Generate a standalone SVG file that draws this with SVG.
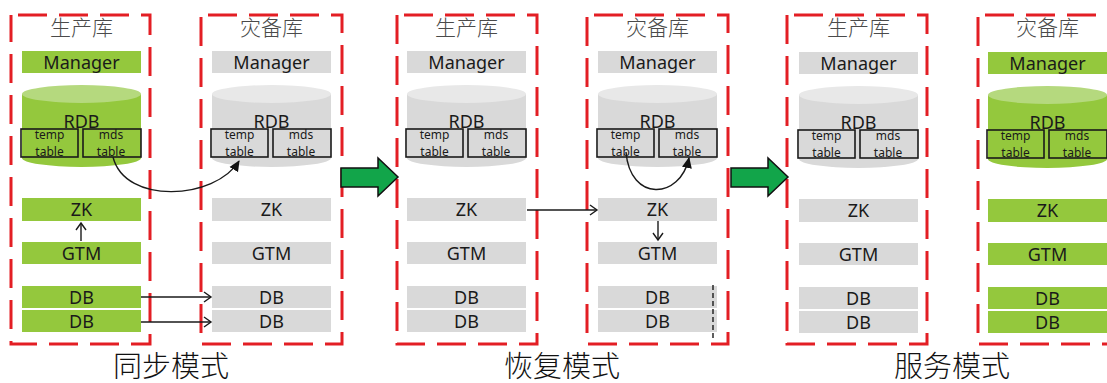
<svg xmlns="http://www.w3.org/2000/svg" width="1107" height="383" viewBox="0 0 1107 383">
<style>
.frame{fill:none;stroke:#E31E24;stroke-width:3;stroke-dasharray:29 12;stroke-dashoffset:-7}
.g{fill:#94C83D}
.y{fill:#D9D9D9}
.gt{fill:#B5D97E}
.yt{fill:#E8E8E8}
.lbl{font-family:"Noto Sans","Open Sans",sans-serif;font-size:18px;fill:#1a1a1a;text-anchor:middle}
.sm{font-family:"Noto Sans","Open Sans",sans-serif;font-size:12px;fill:#1a1a1a;text-anchor:middle}
.tbl{fill:none;stroke:#1a1a1a;stroke-width:1.6}
.title{font-family:"Noto Sans CJK SC","Noto Sans CJK JP",sans-serif;font-size:21px;font-weight:300;fill:#4a4a4a;text-anchor:middle}
.mode{font-family:"Noto Sans CJK SC","Noto Sans CJK JP",sans-serif;font-size:29px;font-weight:300;fill:#111;text-anchor:middle}
.ln{fill:none;stroke:#1a1a1a;stroke-width:1.4}
.big{fill:#12A54A;stroke:#111;stroke-width:1.5}
</style>
<defs>
<marker id="open" markerWidth="10" markerHeight="12" refX="8" refY="6" orient="auto" markerUnits="userSpaceOnUse">
<path d="M1,1 L8,6 L1,11" fill="none" stroke="#1a1a1a" stroke-width="1.4"/>
</marker>
<marker id="solid" markerWidth="12" markerHeight="12" refX="10" refY="6" orient="auto" markerUnits="userSpaceOnUse">
<path d="M0,1 L11,6 L0,11 Z" fill="#111"/>
</marker>
</defs>

<!-- Frames -->
<g id="frames">
<rect class="frame" x="11" y="15" width="139" height="329"/>
<rect class="frame" x="201" y="15" width="141" height="329"/>
<rect class="frame" x="397" y="15" width="140" height="329"/>
<rect class="frame" x="587" y="15" width="141" height="329"/>
<rect class="frame" x="787" y="15" width="140" height="329"/>
<rect class="frame" x="978" y="15" width="141" height="329"/>
</g>

<!-- Panel 1: 生产库 (sync) green -->
<g id="p1">
<text class="title" x="81.5" y="35">生产库</text>
<g id="p1-manager"><rect class="g" x="22" y="51" width="119" height="22"/><text class="lbl" x="81.5" y="68.5">Manager</text></g>
<g id="p1-rdb">
<path class="g" d="M22,94 L22,158 A59.5,9 0 0 0 141,158 L141,94 Z"/>
<ellipse class="gt" cx="81.5" cy="94" rx="59.5" ry="9"/>
<text class="lbl" x="81.5" y="128">RDB</text>
<rect class="tbl" x="21" y="129" width="57" height="28"/>
<text class="sm" x="49.5" y="139">temp</text><text class="sm" x="49.5" y="156">table</text>
<rect class="tbl" x="83" y="129" width="58" height="28"/>
<text class="sm" x="111" y="139">mds</text><text class="sm" x="111" y="156">table</text>
</g>
<g id="p1-zk"><rect class="g" x="22" y="198" width="119" height="23"/><text class="lbl" x="81.5" y="216">ZK</text></g>
<g id="p1-gtm"><rect class="g" x="22" y="242" width="119" height="22"/><text class="lbl" x="81.5" y="259.5">GTM</text></g>
<g id="p1-db1"><rect class="g" x="22" y="286" width="119" height="22"/><text class="lbl" x="81.5" y="303.5">DB</text></g>
<g id="p1-db2"><rect class="g" x="22" y="310" width="119" height="22"/><text class="lbl" x="81.5" y="327.5">DB</text></g>
</g>

<!-- Panel 2: 灾备库 (sync) gray -->
<g id="p2">
<text class="title" x="271.5" y="35">灾备库</text>
<g id="p2-manager"><rect class="y" x="212" y="51" width="119" height="22"/><text class="lbl" x="271.5" y="68.5">Manager</text></g>
<g id="p2-rdb">
<path class="y" d="M212,94 L212,158 A59.5,9 0 0 0 331,158 L331,94 Z"/>
<ellipse class="yt" cx="271.5" cy="94" rx="59.5" ry="9"/>
<text class="lbl" x="271.5" y="128">RDB</text>
<rect class="tbl" x="211" y="129" width="57" height="28"/>
<text class="sm" x="239.5" y="139">temp</text><text class="sm" x="239.5" y="156">table</text>
<rect class="tbl" x="273" y="129" width="58" height="28"/>
<text class="sm" x="301" y="139">mds</text><text class="sm" x="301" y="156">table</text>
</g>
<g id="p2-zk"><rect class="y" x="212" y="198" width="119" height="23"/><text class="lbl" x="271.5" y="216">ZK</text></g>
<g id="p2-gtm"><rect class="y" x="212" y="242" width="119" height="22"/><text class="lbl" x="271.5" y="259.5">GTM</text></g>
<g id="p2-db1"><rect class="y" x="212" y="286" width="119" height="22"/><text class="lbl" x="271.5" y="303.5">DB</text></g>
<g id="p2-db2"><rect class="y" x="212" y="310" width="119" height="22"/><text class="lbl" x="271.5" y="327.5">DB</text></g>
</g>

<!-- Panel 3: 生产库 (recovery) gray -->
<g id="p3">
<text class="title" x="466.5" y="35">生产库</text>
<g id="p3-manager"><rect class="y" x="407" y="51" width="119" height="22"/><text class="lbl" x="466.5" y="68.5">Manager</text></g>
<g id="p3-rdb">
<path class="y" d="M407,94 L407,158 A59.5,9 0 0 0 526,158 L526,94 Z"/>
<ellipse class="yt" cx="466.5" cy="94" rx="59.5" ry="9"/>
<text class="lbl" x="466.5" y="128">RDB</text>
<rect class="tbl" x="406" y="129" width="57" height="28"/>
<text class="sm" x="434.5" y="139">temp</text><text class="sm" x="434.5" y="156">table</text>
<rect class="tbl" x="468" y="129" width="58" height="28"/>
<text class="sm" x="496" y="139">mds</text><text class="sm" x="496" y="156">table</text>
</g>
<g id="p3-zk"><rect class="y" x="407" y="198" width="119" height="23"/><text class="lbl" x="466.5" y="216">ZK</text></g>
<g id="p3-gtm"><rect class="y" x="407" y="242" width="119" height="22"/><text class="lbl" x="466.5" y="259.5">GTM</text></g>
<g id="p3-db1"><rect class="y" x="407" y="286" width="119" height="22"/><text class="lbl" x="466.5" y="303.5">DB</text></g>
<g id="p3-db2"><rect class="y" x="407" y="310" width="119" height="22"/><text class="lbl" x="466.5" y="327.5">DB</text></g>
</g>

<!-- Panel 4: 灾备库 (recovery) gray -->
<g id="p4">
<text class="title" x="657.5" y="35">灾备库</text>
<g id="p4-manager"><rect class="y" x="598" y="51" width="119" height="22"/><text class="lbl" x="657.5" y="68.5">Manager</text></g>
<g id="p4-rdb">
<path class="y" d="M598,94 L598,158 A59.5,9 0 0 0 717,158 L717,94 Z"/>
<ellipse class="yt" cx="657.5" cy="94" rx="59.5" ry="9"/>
<text class="lbl" x="657.5" y="128">RDB</text>
<rect class="tbl" x="597" y="129" width="57" height="28"/>
<text class="sm" x="625.5" y="139">temp</text><text class="sm" x="625.5" y="156">table</text>
<rect class="tbl" x="659" y="129" width="58" height="28"/>
<text class="sm" x="687" y="139">mds</text><text class="sm" x="687" y="156">table</text>
</g>
<g id="p4-zk"><rect class="y" x="598" y="198" width="119" height="23"/><text class="lbl" x="657.5" y="216">ZK</text></g>
<g id="p4-gtm"><rect class="y" x="598" y="242" width="119" height="22"/><text class="lbl" x="657.5" y="259.5">GTM</text></g>
<g id="p4-db1"><rect class="y" x="598" y="286" width="119" height="22"/><text class="lbl" x="657.5" y="303.5">DB</text></g>
<g id="p4-db2"><rect class="y" x="598" y="310" width="119" height="22"/><text class="lbl" x="657.5" y="327.5">DB</text></g>
</g>

<!-- Panel 5: 生产库 (service) gray -->
<g id="p5">
<text class="title" x="858.5" y="35">生产库</text>
<g id="p5-manager"><rect class="y" x="799" y="52" width="119" height="22"/><text class="lbl" x="858.5" y="69.5">Manager</text></g>
<g id="p5-rdb">
<path class="y" d="M799,95 L799,159 A59.5,9 0 0 0 918,159 L918,95 Z"/>
<ellipse class="yt" cx="858.5" cy="95" rx="59.5" ry="9"/>
<text class="lbl" x="858.5" y="129">RDB</text>
<rect class="tbl" x="798" y="130" width="57" height="28"/>
<text class="sm" x="826.5" y="140">temp</text><text class="sm" x="826.5" y="157">table</text>
<rect class="tbl" x="860" y="130" width="58" height="28"/>
<text class="sm" x="888" y="140">mds</text><text class="sm" x="888" y="157">table</text>
</g>
<g id="p5-zk"><rect class="y" x="799" y="199" width="119" height="23"/><text class="lbl" x="858.5" y="217">ZK</text></g>
<g id="p5-gtm"><rect class="y" x="799" y="243" width="119" height="22"/><text class="lbl" x="858.5" y="260.5">GTM</text></g>
<g id="p5-db1"><rect class="y" x="799" y="287" width="119" height="22"/><text class="lbl" x="858.5" y="304.5">DB</text></g>
<g id="p5-db2"><rect class="y" x="799" y="311" width="119" height="22"/><text class="lbl" x="858.5" y="328.5">DB</text></g>
</g>

<!-- Panel 6: 灾备库 (service) green -->
<g id="p6">
<text class="title" x="1047.5" y="35">灾备库</text>
<g id="p6-manager"><rect class="g" x="988" y="52" width="119" height="22"/><text class="lbl" x="1047.5" y="69.5">Manager</text></g>
<g id="p6-rdb">
<path class="g" d="M988,95 L988,159 A59.5,9 0 0 0 1107,159 L1107,95 Z"/>
<ellipse class="gt" cx="1047.5" cy="95" rx="59.5" ry="9"/>
<text class="lbl" x="1047.5" y="129">RDB</text>
<rect class="tbl" x="987" y="130" width="57" height="28"/>
<text class="sm" x="1015.5" y="140">temp</text><text class="sm" x="1015.5" y="157">table</text>
<rect class="tbl" x="1049" y="130" width="58" height="28"/>
<text class="sm" x="1077" y="140">mds</text><text class="sm" x="1077" y="157">table</text>
</g>
<g id="p6-zk"><rect class="g" x="988" y="199" width="119" height="23"/><text class="lbl" x="1047.5" y="217">ZK</text></g>
<g id="p6-gtm"><rect class="g" x="988" y="243" width="119" height="22"/><text class="lbl" x="1047.5" y="260.5">GTM</text></g>
<g id="p6-db1"><rect class="g" x="988" y="287" width="119" height="22"/><text class="lbl" x="1047.5" y="304.5">DB</text></g>
<g id="p6-db2"><rect class="g" x="988" y="311" width="119" height="22"/><text class="lbl" x="1047.5" y="328.5">DB</text></g>
</g>

<!-- Connectors -->
<g id="connectors">
<path class="ln" d="M113,157 C125,205 215,200 239,161" marker-end="url(#solid)"/>
<line class="ln" x1="81" y1="241" x2="81" y2="223" marker-end="url(#open)"/>
<line class="ln" x1="141" y1="297" x2="211" y2="297" marker-end="url(#open)"/>
<line class="ln" x1="141" y1="322" x2="211" y2="322" marker-end="url(#open)"/>
<path class="ln" d="M626,152 C630,202 680,200 689,158" marker-end="url(#solid)"/>
<line class="ln" x1="527" y1="210" x2="597" y2="210" marker-end="url(#open)"/>
<line class="ln" x1="658" y1="221" x2="658" y2="240" marker-end="url(#open)"/>
<line x1="713" y1="285" x2="713" y2="341" stroke="#1a1a1a" stroke-width="1.4" stroke-dasharray="5 3"/>
<polygon class="big" points="341,168 378,168 378,158 398,177 378,196 378,187 341,187"/>
<polygon class="big" points="731,168 768,168 768,158 788,177 768,196 768,187 731,187"/>
</g>

<!-- Mode labels -->
<text class="mode" x="171" y="377">同步模式</text>
<text class="mode" x="562" y="377">恢复模式</text>
<text class="mode" x="952" y="377">服务模式</text>
</svg>
